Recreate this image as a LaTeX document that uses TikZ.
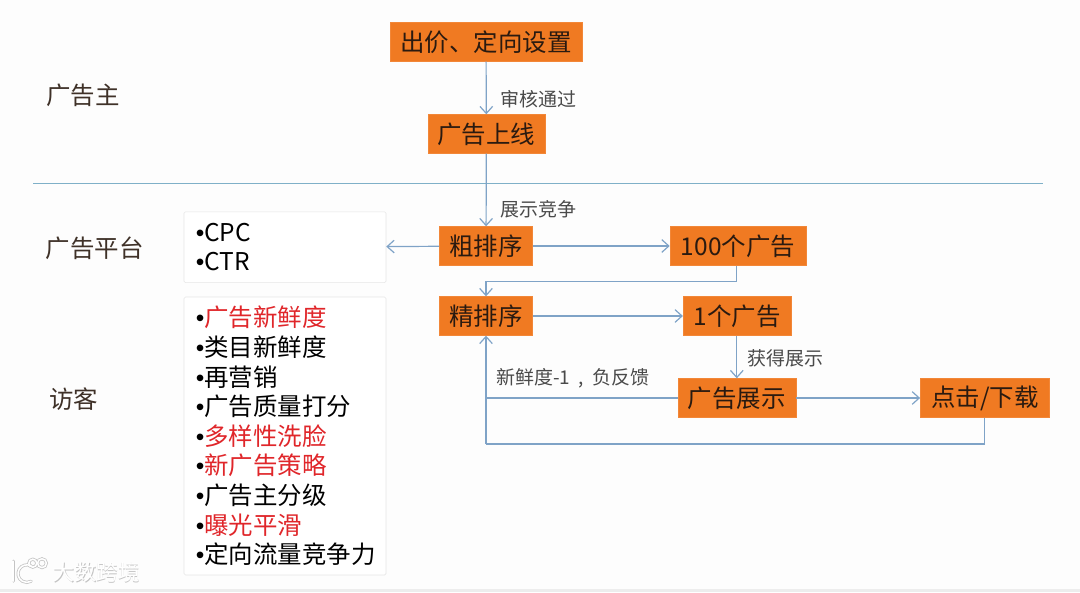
\documentclass[tikz,border=0pt]{standalone}
\usepackage{fontspec}
\setmainfont{Noto Sans CJK SC}
\newfontfamily\bulletfont{Liberation Sans}
\usepackage{xcolor}
\usetikzlibrary{arrows.meta,positioning}
\definecolor{bg}{HTML}{FDFDFD}
\definecolor{orng}{HTML}{F07A22}
\definecolor{txt}{HTML}{2A1A10}
\definecolor{txt2}{HTML}{4A4A4A}
\definecolor{flow}{HTML}{7FA3C7}
\definecolor{rule}{HTML}{7FB0C8}
\definecolor{hot}{HTML}{E0262A}
\definecolor{edge}{HTML}{E6E6E6}
\definecolor{strip}{HTML}{EDEDED}
\definecolor{shade}{HTML}{C4C4C4}
\newcommand{\dotmark}{\hspace*{0.17cm}{\bulletfont •}}

\begin{document}
\begin{tikzpicture}[
  >={Straight Barb[length=5pt,width=9pt]},
  stage/.style={draw=orng!90!white, fill=orng, minimum height=0.97cm, inner sep=0pt, align=center, font=\fontsize{17.4}{20}\selectfont, text=txt},
  arr/.style={->, line width=0.85pt, color=flow},
  seg/.style={line width=0.85pt, color=flow},
  lbl/.style={font=\fontsize{13.5}{15}\selectfont, text=txt2, inner sep=0pt},
  role/.style={font=\fontsize{17.4}{20}\selectfont, text=txt!90, inner sep=0pt},
  listbox/.style={draw=edge, fill=white, rounded corners=1pt, minimum width=5.05cm, text width=4.8cm, inner xsep=0.125cm, inner ysep=0pt, align=left, font=\fontsize{17.4}{21.06}\selectfont, text=black},
  marktext/.style={font=\fontsize{15.6}{18}\selectfont, inner sep=0pt, anchor=west},
  logoshade/.style={draw=shade, line width=2.2pt, line cap=round},
  logoline/.style={draw=white, line width=1.1pt, line cap=round},
]

\fill[bg] (0, 0) rectangle (27, 14.8);
\fill[strip] (0, 0) rectangle (27, 0.07);
\useasboundingbox (0, 0) rectangle (27, 14.8);

\node[role] (advertiser) at (2.07, 12.42) {广告主};
\node[role] (platform) at (2.37, 8.6) {广告平台};
\node[role] (visitor) at (1.84, 4.82) {访客};

\node[stage, minimum width=4.8cm] (bid) at (12.15, 13.75) {出价、定向设置};
\node[stage, minimum width=2.93cm] (online) at (12.16, 11.45) {广告上线};
\node[stage, minimum width=2.33cm] (coarse) at (12.15, 8.65) {粗排序};
\node[stage, minimum width=3.4cm] (hundred) at (18.45, 8.65) {100个广告};
\node[stage, minimum width=2.33cm] (fine) at (12.15, 6.9) {精排序};
\node[stage, minimum width=2.7cm] (single) at (18.43, 6.9) {1个广告};
\node[stage, minimum width=2.95cm] (show) at (18.42, 4.85) {广告展示};
\node[stage, minimum width=3.22cm] (click) at (24.62, 4.85) {点击/下载};

\node[listbox, minimum height=1.77cm] (metrics) at (7.125, 8.62) {\dotmark CPC\\\dotmark CTR};
\node[listbox, minimum height=6.95cm] (factors) at (7.125, 3.9) {%
\dotmark\textcolor{hot}{广告新鲜度}\\
\dotmark 类目新鲜度\\
\dotmark 再营销\\
\dotmark 广告质量打分\\
\dotmark\textcolor{hot}{多样性洗脸}\\
\dotmark\textcolor{hot}{新广告策略}\\
\dotmark 广告主分级\\
\dotmark\textcolor{hot}{曝光平滑}\\
\dotmark 定向流量竞争力};

\coordinate (divleft) at (0.83, 10.22);
\coordinate (divright) at (26.07, 10.22);
\draw[color=rule, line width=0.9pt] (divleft) -- (divright);

\coordinate (hundredturn) at (18.42, 7.77);
\coordinate (fineturn) at (12.15, 7.77);
\coordinate (showjoin) at (12.15, 4.85);
\coordinate (clickturn) at (24.62, 3.7);
\coordinate (backturn) at (12.15, 3.7);

\draw[arr] (bid) -- (online);
\draw[arr] (online) -- (coarse);
\draw[arr] (coarse) -- (metrics);
\draw[arr] (coarse) -- (hundred);
\draw[seg] (hundred.south -| hundredturn) -- (hundredturn) -- (fineturn);
\draw[arr] (fineturn) -- (fine);
\draw[arr] (fine) -- (single);
\draw[arr] (single.south -| show) -- (show);
\draw[arr] (show) -- (click);
\draw[seg] (show) -- (showjoin);
\draw[arr] (backturn) -- (fine);
\draw[seg] (click) -- (clickturn) -- (backturn);

\node[lbl, anchor=west] (passlbl) at (12.5, 12.33) {审核通过};
\node[lbl, anchor=west] (competelbl) at (12.5, 9.57) {展示竞争};
\node[lbl, anchor=west] (gainlbl) at (18.67, 5.85) {获得展示};
\node[lbl, anchor=west] (feedlbl) at (12.4, 5.35) {新鲜度-1\hspace{0.11cm} ,\hspace{0.11cm} 负反馈};

\foreach \look in {logoshade, logoline} {
  \draw[\look] (0.33, 0.77) -- (0.33, 0.27);
  \draw[\look] (0.78, 0.65) arc (60:300:0.22);
  \draw[\look] (0.82, 0.72) circle (0.1);
  \draw[\look] (1.05, 0.72) circle (0.11);
}
\node[marktext, text=shade] (markshade) at (1.32, 0.48) {大数跨境};
\node[marktext, text=white] (mark) at (1.3, 0.5) {大数跨境};
\end{tikzpicture}
\end{document}
